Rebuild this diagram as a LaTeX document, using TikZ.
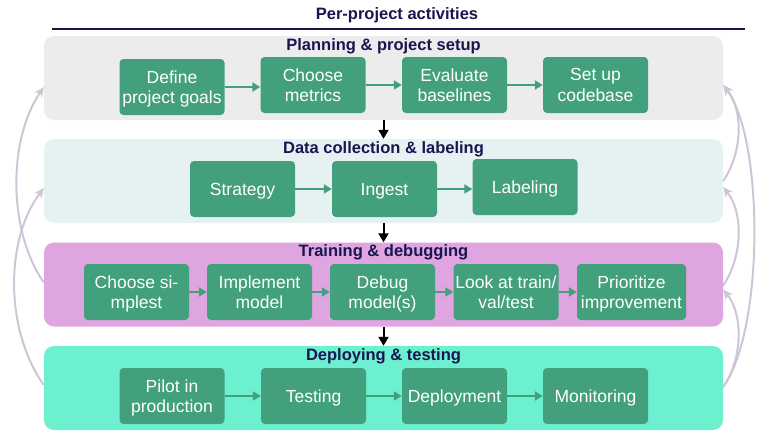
\documentclass[tikz,border=0pt]{standalone}
\usepackage{fontspec}
\setmainfont{Liberation Sans}
\usetikzlibrary{arrows.meta,calc}
\definecolor{boxgreen}{HTML}{43A07C}
\definecolor{navy}{HTML}{1A1550}
\definecolor{pgray}{HTML}{ECECEC}
\definecolor{pteal}{HTML}{E5F2F1}
\definecolor{porchid}{HTML}{DEA5E0}
\definecolor{paqua}{HTML}{6DF0D0}
\definecolor{loopc}{HTML}{CEC5D6}
\tikzset{
  panel/.style={rounded corners=10pt, minimum width=679pt, minimum height=84pt, inner sep=0pt},
  ptitle/.style={text=navy, font=\fontsize{16.5}{19}\selectfont\bfseries, inner sep=0pt},
  gbox/.style={rounded corners=4pt, fill=boxgreen, text=white, align=center,
    minimum width=105pt, minimum height=56pt, inner sep=0pt, text depth=0pt,
    font=\fontsize{17.5}{20.5}\selectfont},
  garrow/.style={draw=boxgreen, line width=2.5pt, -{Triangle[length=8pt,width=9pt]}},
  barrow/.style={draw=black, line width=2pt, -{Triangle[length=9pt,width=10pt]}},
  looparrow/.style={draw=loopc, line width=2pt, -{Stealth[length=10pt,width=9pt]}}
}
\begin{document}
\begin{tikzpicture}[x=1pt,y=-1pt]
\useasboundingbox (0,0) rectangle (762,437);
% title
\node[ptitle] (title) at (397,15) {Per-project activities};
\coordinate (tl) at (52,29);
\coordinate (tr) at (745,29);
\draw[navy, line width=1.3pt] (tl) -- (tr);
% panels
\node[panel, fill=pgray] (p1) at (383.5,78) {};
\node[panel, fill=pteal] (p2) at (383.5,181) {};
\node[panel, fill=porchid] (p3) at (383.5,284.5) {};
\node[panel, fill=paqua] (p4) at (383.5,388) {};
\node[ptitle] (t1) at (383.5,46) {Planning \& project setup};
\node[ptitle] (t2) at (383.5,149.5) {Data collection \& labeling};
\node[ptitle] (t3) at (383.5,252.5) {Training \& debugging};
\node[ptitle] (t4) at (383.5,356) {Deploying \& testing};
% panel 1 boxes
\node[gbox] (a1) at (172,87) {Define\\project goals};
\node[gbox] (a2) at (313,85) {Choose\\metrics};
\node[gbox] (a3) at (454.5,85) {Evaluate\\baselines};
\node[gbox] (a4) at (595.5,85) {Set up\\codebase};
% panel 2 boxes
\node[gbox] (b1) at (242.5,189) {Strategy};
\node[gbox] (b2) at (384.5,189) {Ingest};
\node[gbox] (b3) at (525,187) {Labeling};
% panel 3 boxes
\node[gbox] (c1) at (136.5,292) {Choose si-\\mplest};
\node[gbox] (c2) at (259.5,292) {Implement\\model};
\node[gbox] (c3) at (382.5,292) {Debug\\model(s)};
\node[gbox] (c4) at (506,292) {Look at train/\\val/test};
\node[gbox, minimum width=109pt] (c5) at (631.5,292) {Prioritize\\improvement};
% panel 4 boxes
\node[gbox] (d1) at (172,396) {Pilot in\\production};
\node[gbox] (d2) at (313.5,396) {Testing};
\node[gbox] (d3) at (454.5,396) {Deployment};
\node[gbox] (d4) at (595.5,396) {Monitoring};
% green arrows
\draw[garrow] (a1.east) -- (a1.east -| a2.west);
\draw[garrow] (a2.east) -- (a3.west);
\draw[garrow] (a3.east) -- (a4.west);
\draw[garrow] (b1.east) -- (b2.west);
\draw[garrow] (b2.east) -- (b2.east -| b3.west);
\draw[garrow] (c1.east) -- (c2.west);
\draw[garrow] (c2.east) -- (c3.west);
\draw[garrow] (c3.east) -- (c4.west);
\draw[garrow] (c4.east) -- (c5.west);
\draw[garrow] (d1.east) -- (d2.west);
\draw[garrow] (d2.east) -- (d3.west);
\draw[garrow] (d3.east) -- (d4.west);
% black arrows between panels
\draw[barrow] (p1.south) -- (p2.north);
\draw[barrow] (p2.south) -- (p3.north);
\draw[barrow] (p3.south) -- (p4.north);
% loop arrows left
\draw[looparrow] ([yshift=2pt]p3.west) .. controls +(-36,-52) and +(-36,53) .. ([yshift=-9pt]p1.west);
\draw[looparrow] ([yshift=3pt]p4.west) .. controls +(-39,-55) and +(-39,52) .. ([yshift=-7pt]p2.west);
% loop arrows right
\draw[looparrow] (p2.east) .. controls +(20,-30) and +(20,25) .. ([yshift=-7pt]p1.east);
\draw[looparrow] ([yshift=-1pt]p3.east) .. controls +(20,-30) and +(20,25) .. ([yshift=-6pt]p2.east);
\draw[looparrow] ([yshift=1pt]p4.east) .. controls +(20,-30) and +(20,25) .. ([yshift=-5pt]p3.east);
\draw[looparrow] ([yshift=1pt]p4.east) .. controls +(41,-57) and +(41,55) .. ([yshift=-7pt]p1.east);
\end{tikzpicture}
\end{document}
